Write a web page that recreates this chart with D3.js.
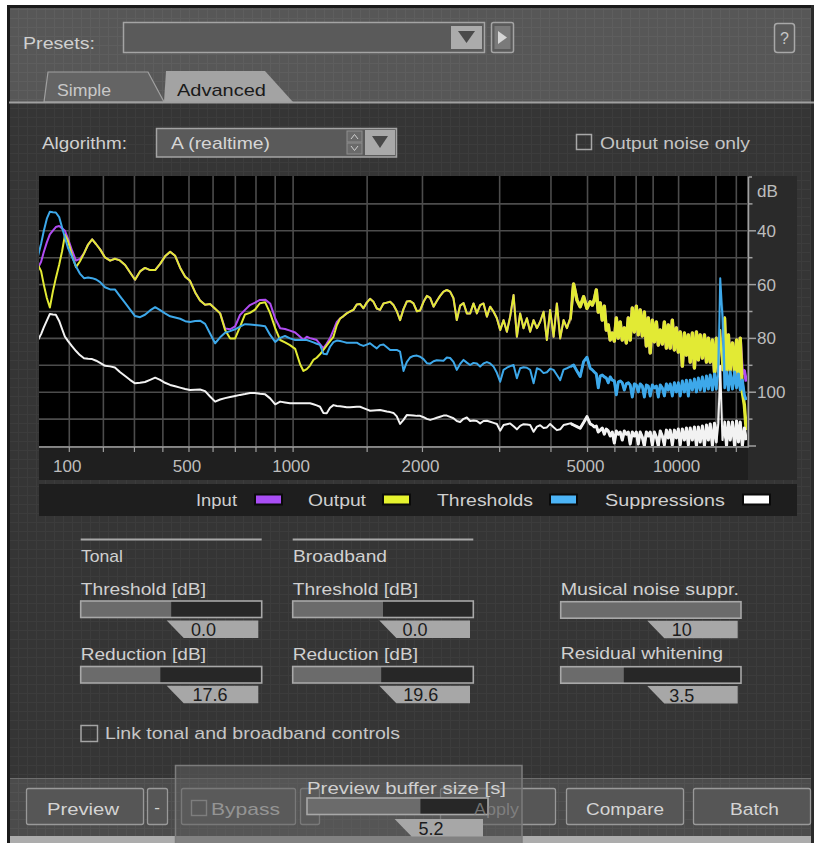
<!DOCTYPE html>
<html><head><meta charset="utf-8">
<script src="https://cdn.jsdelivr.net/npm/d3@7"></script>
<style>
html,body{margin:0;padding:0;background:#fff;}
svg{display:block;}
text{font-family:"Liberation Sans",Arial,sans-serif;}
</style></head>
<body><svg id="c" width="814" height="843"></svg>
<script>
// ---------------- DATA ----------------
const freqHz = [
 16,24,31,39,47,55,63,72,80,88,96,
 108,119,130,142,154,166,178,
 190,205,221,236,252,269,285,302,319,336,
 354,372,390,408,427,446,465,485,504,525,
 545,566,587,609,631,653,676,699,722,746,
 770,795,820,847,873,900,927,954,982,1012,
 1041,
 1061,1081,1101,1122,1143,1164,1186,1208,1230,1253,
 1276,1299,1323,1346,1370,1395,1420,1445,1471,1497,
 1523,1551,1578,1605,1634,1663,1692,1721,1751,1781,
 1813,1844,1876,1909,1943,1976,2011,2046,2081,2118,
 2154,2191,2230,2269,2308,2349,2390,2432,2476,2519,
 2563,2609,2656,2702,2751,2801,2850,2903,2955,3008,
 3064,3120,3176,3236,3296,3356,3420,3485,3549,3619,
 3688,3757,3832,3906,3981,4062,4142,4224,4311,4399,
 4487,4582,4677,4773,4877,4982,5086,
 5155,5223,5292,5361,5430,5505,5581,5656,5732,5808,
 5892,5976,6060,6144,6228,6321,6415,6508,6602,6695,
 6800,6905,7009,7114,7219,7337,7456,7574,7692,7811,
 7946,8081,8215,8350,8485,8639,8793,8948,9102,9256,
 9435,9615,9794,9974,10153,10364,10574,10785,10995,11206,
 11456,11706,11956,12206,12456,12760,13063,13367,13670,13974,
 14349,14723,15098,15472,15847,16320,16793,17266,17739,18212,
 18832,19452,20072,20692,21312,22099,22886,23673
];
const inputDb = [
 53.8,51.5,47.9,44.3,41.3,39.9,38.6,38.2,39.1,40.0,42.8,
 47.4,51.1,50.4,48.4,45.1,43.2,45.0,
 46.9,49.9,51.1,50.4,51.0,52.7,55.4,58.2,55.1,53.8,
 54.6,54.6,52.3,49.5,47.8,49.3,53.7,57.1,58.6,62.9,
 65.9,67.5,67.2,69.0,70.7,76.3,76.6,75.5,71.3,69.4,
 67.6,66.7,65.7,65.6,67.0,72.6,76.2,76.5,77.1,77.8,
 79.4,
 80.6,79.4,79.9,80.2,80.6,82.1,83.7,81.9,79.9,76.9,
 73.9,72.6,71.7,70.7,70.0,69.4,67.4,67.2,68.8,66.7,
 65.3,66.4,68.9,69.4,67.0,66.7,66.4,67.6,69.9,73.2,
 69.1,66.3,66.1,67.0,69.9,69.6,66.4,64.2,64.9,68.2,
 66.1,64.2,62.6,62.0,62.6,65.1,73.2,67.8,66.9,70.7,
 70.7,67.0,70.7,67.6,67.0,71.9,68.2,70.1,72.5,76.9,
 73.2,77.5,71.9,63.9,79.4,70.7,76.2,72.5,77.5,73.2,
 76.2,73.8,70.1,80.6,69.4,79.4,67.0,80.0,73.2,76.2,
 72.5,59.8,65.7,68.2,64.5,68.8,66.4,
 67.6,65.7,62.0,70.2,66.8,73.2,68.0,76.9,75.0,80.6,
 78.0,81.0,72.4,79.9,73.9,80.6,76.1,81.7,72.4,80.6,
 68.7,77.6,68.0,78.7,69.4,79.1,70.2,82.8,72.4,85.4,
 73.2,81.3,73.9,82.5,76.9,82.1,73.9,83.6,75.0,83.6,
 73.2,84.3,76.1,85.1,77.6,90.3,78.0,86.2,78.7,88.8,
 78.0,91.0,77.6,88.0,78.7,87.3,78.7,88.8,79.9,88.8,
 80.6,92.5,79.9,92.5,76.9,91.8,72.4,92.5,78.7,91.8,
 81.7,92.5,80.6,95.5,79.9,93.0,92.0,96.0
];
const outputDb = [
 52.7,55.0,60.0,65.0,68.5,62.6,57.6,52.6,47.6,41.5,43.7,
 49.3,53.5,51.4,48.4,45.1,43.2,45.0,
 46.9,49.9,51.1,50.4,51.0,52.7,55.4,58.2,55.1,53.8,
 54.6,54.6,52.3,49.5,47.8,49.3,53.7,57.1,58.6,62.9,
 65.9,67.5,67.2,69.0,70.7,76.9,80.0,80.0,75.7,71.1,
 70.5,69.3,66.9,66.6,70.6,76.2,80.6,81.5,82.5,83.9,
 89.6,
 92.1,91.4,90.1,88.0,87.2,85.9,84.3,82.6,81.0,79.4,
 75.1,72.6,71.7,70.7,70.0,69.4,67.4,67.2,68.8,66.7,
 65.3,66.4,68.9,69.4,67.0,66.7,66.4,67.6,69.9,73.2,
 69.1,66.3,66.1,67.0,69.9,69.6,66.4,64.2,64.9,68.2,
 66.1,64.2,62.6,62.0,62.6,65.1,73.2,67.8,66.9,70.7,
 70.7,67.0,70.7,67.6,67.0,71.9,68.2,70.1,72.5,76.9,
 73.2,77.5,71.9,63.9,79.4,70.7,76.2,72.5,77.5,73.2,
 76.2,73.8,70.1,80.6,69.4,79.4,67.0,80.0,73.2,76.2,
 72.5,59.8,65.7,68.2,64.5,68.8,66.4,
 67.6,65.7,62.0,70.2,66.8,73.2,68.0,76.9,75.0,80.6,
 78.0,81.0,72.4,79.9,73.9,80.6,76.1,81.7,72.4,80.6,
 68.7,77.6,68.0,78.7,69.4,79.1,70.2,82.8,72.4,85.4,
 73.2,81.3,73.9,82.5,76.9,82.1,73.9,83.6,75.0,83.6,
 73.2,84.3,76.1,85.1,77.6,90.3,78.0,86.2,78.7,88.8,
 78.0,91.0,77.6,88.0,78.7,87.3,78.7,88.8,79.9,88.8,
 80.6,92.5,79.9,92.5,76.9,91.8,72.4,92.5,78.7,91.8,
 81.7,92.5,80.6,95.5,79.9,99.9,104.8,114.1
];
const thresholdDb = [
 49.4,44.8,40.1,35.5,32.9,33.1,33.2,34.9,38.8,42.6,46.2,
 49.8,53.3,55.9,57.6,57.4,57.6,58.1,
 59.1,61.0,61.8,61.8,64.3,66.8,69.2,71.7,72.1,71.2,
 69.6,68.4,69.5,70.7,71.8,72.2,72.7,73.6,73.9,73.5,
 73.4,74.6,78.2,81.8,79.6,77.9,77.3,76.6,75.6,74.7,
 74.8,75.0,75.2,75.5,78.7,81.3,79.8,79.1,80.0,80.6,
 80.6,
 80.6,80.6,81.0,81.5,82.0,82.4,85.7,85.9,83.1,81.4,
 80.8,81.0,81.3,81.6,81.6,81.6,81.6,82.3,82.8,82.3,
 81.8,82.8,83.7,82.5,82.3,83.3,84.3,84.3,84.3,84.9,
 92.1,88.8,87.1,86.5,86.4,86.8,87.7,89.2,89.4,88.5,
 88.1,88.2,88.3,87.1,87.3,88.7,91.7,89.5,88.0,89.0,
 89.9,89.1,89.3,90.5,89.3,88.8,89.3,90.5,92.8,96.1,
 91.7,90.9,90.3,89.9,94.8,91.1,90.7,90.9,91.7,96.7,
 91.1,91.6,92.9,92.6,91.3,91.7,93.6,95.5,91.6,91.1,
 90.5,89.9,92.1,94.2,88.6,87.0,91.1,
 91.7,92.5,93.2,98.4,94.0,93.6,94.3,94.7,96.5,94.3,
 95.5,95.8,101.0,96.2,95.8,96.5,99.2,96.9,96.5,97.3,
 101.8,96.9,97.3,99.9,96.9,97.7,101.8,97.3,97.7,101.4,
 97.3,98.4,97.7,101.8,97.3,98.4,101.4,96.9,99.2,96.9,
 101.4,96.5,99.9,96.5,101.4,95.8,99.9,95.5,101.4,95.5,
 99.2,95.1,99.9,94.7,99.2,94.3,99.6,94.0,98.8,93.6,
 99.2,93.2,98.8,92.9,57.6,72.0,98.4,92.5,99.2,92.5,
 98.8,92.5,98.4,93.2,99.2,95.5,101.0,102.9
];
const suppressionDb = [
 80.6,78.4,75.9,73.4,70.9,71.1,71.2,73.5,76.5,79.4,80.9,
 83.0,84.7,86.2,87.4,87.6,87.7,88.3,
 89.1,90.2,90.4,90.8,92.5,94.0,95.4,96.7,96.5,96.2,
 95.4,94.6,95.4,96.5,97.3,97.8,98.3,98.8,99.2,99.1,
 99.0,99.6,101.6,103.5,102.7,102.2,101.8,101.4,101.0,100.7,
 100.3,100.3,100.6,100.8,102.3,104.5,103.5,103.8,104.1,104.1,
 104.1,
 104.1,104.1,104.1,104.5,104.9,105.4,107.7,107.8,105.8,104.8,
 105.1,105.2,105.4,105.6,105.6,105.5,105.4,105.4,105.9,106.4,
 106.9,106.8,106.7,106.6,106.9,107.2,107.4,107.7,109.0,111.8,
 110.3,108.5,108.6,108.7,108.8,108.8,109.3,109.9,110.3,109.9,
 109.5,109.1,108.7,108.7,109.2,109.7,110.7,111.1,109.9,109.4,
 110.7,110.5,110.7,111.6,110.7,110.6,111.0,111.4,111.8,114.3,
 112.2,111.9,111.6,112.7,113.8,112.5,111.9,112.0,112.2,114.7,
 112.8,112.3,113.3,113.1,111.8,113.0,114.1,113.8,112.2,111.9,
 111.6,112.2,112.8,113.4,111.3,109.1,111.8,
 112.2,112.9,112.6,114.8,114.1,113.3,115.6,113.7,114.4,116.3,
 114.8,118.9,114.4,115.6,114.8,117.8,114.4,115.6,114.8,119.3,
 114.8,116.3,114.8,119.3,114.8,116.7,120.0,114.8,116.3,114.8,
 119.6,114.8,116.7,120.0,114.4,116.3,119.6,114.1,117.0,114.1,
 119.6,114.1,117.0,113.7,119.6,113.7,117.8,113.3,119.6,113.3,
 117.8,112.9,120.0,112.9,118.5,112.6,120.0,112.2,117.8,111.8,
 120.0,111.5,118.5,111.5,90.3,117.8,111.1,120.0,111.1,117.8,
 111.1,120.0,110.7,118.5,111.1,120.0,113.3,117.8
];
const xTickHz = [100, 500, 1000, 2000, 5000, 10000];
const xGridHz = [100,200,300,400,500,600,700,800,900,1000,1500,2000,3000,4000,5000,6000,7000,8000,10000,15000,20000];
const yTickDb = [40, 60, 80, 100];
const yMinorDb = [30, 50, 70, 90, 110];
const yGridDb = [30, 40, 50, 60, 70, 80, 90, 100, 110];
const seriesNames = ["Input", "Output", "Thresholds", "Suppressions"];
const seriesColors = ["#b04cf2", "#e2ea34", "#3da8ea", "#f2f2f2"];
const swatchColors = ["#a94ef5", "#e6f32e", "#4cb4f6", "#ffffff"];
const sliderLabels = ["Threshold [dB]", "Reduction [dB]", "Threshold [dB]", "Reduction [dB]", "Musical noise suppr.", "Residual whitening", "Preview buffer size [s]"];
const sliderValues = [0.0, 17.6, 0.0, 19.6, 10, 3.5, 5.2];
const sliderText = ["0.0", "17.6", "0.0", "19.6", "10", "3.5", "5.2"];
const sliderRanges = [[-20,20],[0,40],[-20,20],[0,40],[0,10],[0,10],[0.5,8]];

// ---------------- SETUP ----------------
const svg = d3.select("#c");
const defs = svg.append("defs");
function gridPattern(id, bg, line, size) {
  const p = defs.append("pattern").attr("id", id).attr("width", size).attr("height", size)
    .attr("patternUnits", "userSpaceOnUse");
  p.append("rect").attr("width", size).attr("height", size).attr("fill", bg);
  p.append("path").attr("d", `M0 0.5H${size}M0.5 0V${size}`).attr("stroke", line).attr("stroke-width", 1);
}
gridPattern("gTop", "#575757", "#5e5e5e", 9);
gridPattern("gLow", "#353535", "#3c3c3c", 9);
gridPattern("gBar", "#4b4b4b", "#525252", 9);

function label(parent, s, x0, x1, y, opt = {}) {
  const t = parent.append("text").attr("x", x0).attr("y", y).text(s)
    .attr("font-size", opt.size || 17).attr("fill", opt.fill || "#d0d0d0");
  if (x1 != null) t.attr("textLength", x1 - x0).attr("lengthAdjust", "spacingAndGlyphs");
  return t;
}
function ctext(parent, s, cx, y, opt = {}) {
  return parent.append("text").attr("x", cx).attr("y", y).attr("text-anchor", "middle").text(s)
    .attr("font-size", opt.size || 17).attr("fill", opt.fill || "#d0d0d0");
}

// ---------------- WINDOW BACKGROUND ----------------
svg.append("rect").attr("width", 814).attr("height", 843).attr("fill", "#ffffff");
svg.append("rect").attr("x", 9).attr("y", 7).attr("width", 805).attr("height", 96).attr("fill", "url(#gTop)");
svg.append("rect").attr("x", 9).attr("y", 103).attr("width", 805).attr("height", 676).attr("fill", "url(#gLow)");
svg.append("rect").attr("x", 9).attr("y", 779).attr("width", 805).attr("height", 57).attr("fill", "url(#gBar)");
svg.append("rect").attr("x", 9).attr("y", 836).attr("width", 805).attr("height", 7).attr("fill", "#acacac");
svg.append("line").attr("x1", 9).attr("x2", 814).attr("y1", 778.5).attr("y2", 778.5).attr("stroke", "#6e6e6e");
svg.append("rect").attr("x", 7).attr("y", 5).attr("width", 3).attr("height", 838).attr("fill", "#1b1b1b");
svg.append("rect").attr("x", 7).attr("y", 5).attr("width", 807).attr("height", 3).attr("fill", "#1b1b1b");
svg.append("rect").attr("x", 811).attr("y", 5).attr("width", 3).attr("height", 838).attr("fill", "#2a2a2a");

// ---------------- TOP BAR ----------------
const topG = svg.append("g");
label(topG, "Presets:", 23, 95, 49);
topG.append("rect").attr("x", 123.5).attr("y", 22.5).attr("width", 361).attr("height", 30)
  .attr("fill", "#5a5a5a").attr("stroke", "#a4a4a4").attr("stroke-width", 1.5);
topG.append("rect").attr("x", 451).attr("y", 26).attr("width", 31).attr("height", 23).attr("fill", "#ababab");
topG.append("path").attr("d", "M458,31L475,31L466.5,43Z").attr("fill", "#4a4a4a");
topG.append("rect").attr("x", 491.5).attr("y", 22.5).attr("width", 22).attr("height", 30).attr("rx", 2)
  .attr("fill", "#5a5a5a").attr("stroke", "#a4a4a4").attr("stroke-width", 1.5);
topG.append("rect").attr("x", 494.5).attr("y", 26).attr("width", 16).attr("height", 23).attr("fill", "#7a7a7a");
topG.append("path").attr("d", "M498,31L498,44L507,37.5Z").attr("fill", "#d6d6d6");
topG.append("rect").attr("x", 774.5).attr("y", 23.5).attr("width", 20).attr("height", 29).attr("rx", 3)
  .attr("fill", "#5a5a5a").attr("stroke", "#a8a8a8").attr("stroke-width", 1.5);
ctext(topG, "?", 784.5, 44, { fill: "#c6c6c6", size: 16 });

// tabs
topG.append("path").attr("d", "M44,102L48,72L148,72L164,102Z").attr("fill", "#646464")
  .attr("stroke", "#a0a0a0").attr("stroke-width", 1.2);
topG.append("path").attr("d", "M164,102L166,71L265,71L293,102Z").attr("fill", "#a3a3a3");
label(topG, "Simple", 57, 111, 96, { fill: "#c8c8c8" });
label(topG, "Advanced", 177, 266, 96, { fill: "#1a1a1a" });
svg.append("line").attr("x1", 9).attr("x2", 814).attr("y1", 102.5).attr("y2", 102.5)
  .attr("stroke", "#a0a0a0").attr("stroke-width", 2);

// algorithm row
const alg = svg.append("g");
label(alg, "Algorithm:", 42, 127, 149);
alg.append("rect").attr("x", 156.5).attr("y", 128.5).attr("width", 240).attr("height", 28.5)
  .attr("fill", "#5a5a5a").attr("stroke", "#a4a4a4").attr("stroke-width", 1.5);
label(alg, "A (realtime)", 171, 270, 149, { fill: "#d6d6d6" });
alg.append("rect").attr("x", 347).attr("y", 131).attr("width", 15).attr("height", 11).attr("fill", "#6a6a6a").attr("stroke", "#8e8e8e");
alg.append("rect").attr("x", 347).attr("y", 143).attr("width", 15).attr("height", 11).attr("fill", "#6a6a6a").attr("stroke", "#8e8e8e");
alg.append("path").attr("d", "M351,139L354.5,134.5L358,139").attr("fill", "none").attr("stroke", "#cfcfcf");
alg.append("path").attr("d", "M351,146L354.5,150.5L358,146").attr("fill", "none").attr("stroke", "#cfcfcf");
alg.append("rect").attr("x", 365).attr("y", 130).attr("width", 30).attr("height", 25).attr("fill", "#a9a9a9");
alg.append("path").attr("d", "M372,136L388,136L380,148Z").attr("fill", "#484848");
alg.append("rect").attr("x", 576.5).attr("y", 134.5).attr("width", 15).attr("height", 15)
  .attr("fill", "none").attr("stroke", "#a8a8a8").attr("stroke-width", 1.5);
label(alg, "Output noise only", 600, 750, 149, { fill: "#c4c4c4" });

// ---------------- CHART ----------------
const bark = f => 26.81 * f / (1960 + f) - 0.53;
const xs = d3.scaleLinear().domain([bark(100), bark(10000)]).range([69.3, 678.6]);
const fx = f => xs(bark(f));
const ys = d3.scaleLinear().domain([20, 120]).range([177, 446]);
const L = 39, R = 747, T = 176, B = 446;

const chart = svg.append("g");
chart.append("rect").attr("x", 748).attr("y", T).attr("width", 49).attr("height", 304).attr("fill", "#2a2a2a");
chart.append("rect").attr("x", L).attr("y", 447).attr("width", 709).attr("height", 33).attr("fill", "#1f1f1f");
chart.append("rect").attr("x", L).attr("y", 484).attr("width", 758).attr("height", 32).attr("fill", "#1e1e1e");
chart.append("rect").attr("x", L).attr("y", T).attr("width", R - L).attr("height", B - T).attr("fill", "#000");

defs.append("clipPath").attr("id", "plotClip").append("rect")
  .attr("x", L).attr("y", T).attr("width", R - L).attr("height", B - T);
// dense (high-frequency) part of the spectrum is stroked wider so the bins merge as in the original;
// the narrow tonal spike near 15.8 kHz keeps the thin stroke
const dense = defs.append("clipPath").attr("id", "denseClip");
dense.append("rect").attr("x", fx(4500)).attr("y", T).attr("width", fx(15300) - fx(4500)).attr("height", B - T);
dense.append("rect").attr("x", fx(16600)).attr("y", T).attr("width", R - fx(16600)).attr("height", B - T);

const gridG = chart.append("g").attr("stroke", "#4c4c4c").attr("stroke-width", 1.6);
gridG.selectAll(".v").data(xGridHz).join("line")
  .attr("x1", d => fx(d)).attr("x2", d => fx(d)).attr("y1", T).attr("y2", B);
gridG.selectAll(".h").data(yGridDb).join("line")
  .attr("x1", L).attr("x2", R).attr("y1", d => ys(d)).attr("y2", d => ys(d));

const lineGen = vals => d3.line()
  .x((d, i) => fx(freqHz[i]))
  .y(d => ys(d))
  .curve(d3.curveLinear)(vals);
const seriesData = [inputDb, outputDb, thresholdDb, suppressionDb];
const denseWidth = [3.2, 3.4, 2.9, 3.0];
const lg = chart.append("g").attr("clip-path", "url(#plotClip)");
seriesData.forEach((vals, k) => {
  const d = lineGen(vals);
  lg.append("path").attr("d", d).attr("fill", "none")
    .attr("stroke", seriesColors[k]).attr("stroke-width", 2)
    .attr("stroke-linejoin", "round");
  lg.append("path").attr("d", d).attr("fill", "none").attr("clip-path", "url(#denseClip)")
    .attr("stroke", seriesColors[k]).attr("stroke-width", denseWidth[k])
    .attr("stroke-linejoin", "round");
});

// bottom axis
const axG = chart.append("g").attr("stroke", "#a0a0a0");
axG.append("line").attr("x1", L).attr("x2", 749).attr("y1", 447).attr("y2", 447).attr("stroke-width", 1.5);
axG.selectAll(".t").data(xGridHz).join("line")
  .attr("x1", d => fx(d)).attr("x2", d => fx(d)).attr("y1", 447).attr("y2", 452).attr("stroke-width", 1.2);
chart.selectAll(".xl").data(xTickHz).join("text")
  .attr("x", d => fx(d) - 2).attr("y", 472).attr("text-anchor", "middle")
  .attr("font-size", 17).attr("fill", "#bdbdbd").text(d => d);

// right axis
axG.append("line").attr("x1", 748.5).attr("x2", 748.5).attr("y1", 177).attr("y2", 447).attr("stroke-width", 1.5);
axG.selectAll(".mj").data([20].concat(yTickDb, [120])).join("line")
  .attr("x1", 748.5).attr("x2", d => d === 20 ? 752 : 756).attr("y1", d => ys(d)).attr("y2", d => ys(d)).attr("stroke-width", 1.5);
axG.selectAll(".mn").data(yMinorDb).join("line")
  .attr("x1", 748.5).attr("x2", 752.5).attr("y1", d => ys(d)).attr("y2", d => ys(d)).attr("stroke-width", 1.5);
chart.selectAll(".yl").data(yTickDb).join("text")
  .attr("x", 757).attr("y", d => ys(d) + 6).attr("font-size", 17).attr("fill", "#bdbdbd").text(d => d);
chart.append("text").attr("x", 757).attr("y", 197).attr("font-size", 17).attr("fill", "#bdbdbd").text("dB");

// legend
const legPos = [
  { t0: 196, t1: 237, s: 255 },
  { t0: 308, t1: 366, s: 383 },
  { t0: 437, t1: 533, s: 550 },
  { t0: 605, t1: 725, s: 743 }
];
seriesNames.forEach((n, k) => {
  label(chart, n, legPos[k].t0, legPos[k].t1, 506, { fill: "#cfcfcf" });
  chart.append("rect").attr("x", legPos[k].s).attr("y", 494.5).attr("width", 27).attr("height", 10)
    .attr("fill", swatchColors[k]).attr("stroke", "#0a0a0a").attr("stroke-width", 2);
});

// ---------------- CONTROLS ----------------
const ctl = svg.append("g");
ctl.append("line").attr("x1", 80.7).attr("x2", 261.7).attr("y1", 539.5).attr("y2", 539.5).attr("stroke", "#a8a8a8").attr("stroke-width", 2);
ctl.append("line").attr("x1", 292.7).attr("x2", 473.3).attr("y1", 539.5).attr("y2", 539.5).attr("stroke", "#a8a8a8").attr("stroke-width", 2);
label(ctl, "Tonal", 81, 123, 562);
label(ctl, "Broadband", 293, 387, 562);

function slider(g, k, x0, x1, yT, boxX0, boxX1, boxT, valCx, labX1, labY) {
  label(g, sliderLabels[k], x0, labX1, labY);
  const sc = d3.scaleLinear().domain(sliderRanges[k]).range([x0, x1]).clamp(true);
  const h = 16.5;
  g.append("rect").attr("x", x0).attr("y", yT).attr("width", x1 - x0).attr("height", h).attr("fill", "#272727");
  g.append("rect").attr("x", x0).attr("y", yT).attr("width", sc(sliderValues[k]) - x0).attr("height", h).attr("fill", "#6b6b6b");
  g.append("rect").attr("x", x0).attr("y", yT).attr("width", x1 - x0).attr("height", h)
    .attr("fill", "none").attr("stroke", "#a8a8a8").attr("stroke-width", 1.6);
  const bh = 17.5;
  g.append("path").attr("d", `M${boxX0},${boxT}L${boxX1},${boxT}L${boxX1},${boxT + bh}L${boxX0 + 17},${boxT + bh}Z`)
    .attr("fill", "#a7a7a7");
  ctext(g, sliderText[k], valCx, boxT + 15.5, { fill: "#1c1c1c", size: 18 });
}
slider(ctl, 0, 80.7, 261.7, 601, 166.7, 258.3, 620.5, 203.5, 206, 595);
slider(ctl, 1, 80.7, 261.7, 666.5, 166.7, 258.3, 685.7, 210, 206, 660);
slider(ctl, 2, 292.7, 473.3, 601, 379.3, 470, 620.5, 415, 418, 595);
slider(ctl, 3, 292.7, 473.3, 666.5, 379.3, 470, 685.7, 420.8, 418, 660);
slider(ctl, 4, 560.7, 741, 601.7, 647.3, 737.7, 620.7, 681.7, 739, 595);
slider(ctl, 5, 560.7, 741, 666.7, 647.3, 737.7, 686, 681.7, 723, 659);

ctl.append("rect").attr("x", 81).attr("y", 725.5).attr("width", 16.5).attr("height", 16)
  .attr("fill", "none").attr("stroke", "#a4a4a4").attr("stroke-width", 1.5);
label(ctl, "Link tonal and broadband controls", 105, 400, 739, { fill: "#c6c6c6" });

// ---------------- BOTTOM BAR ----------------
const bar = svg.append("g");
function button(x0, x1, txt, tx0, tx1, fill) {
  bar.append("rect").attr("x", x0 + 0.5).attr("y", 788.5).attr("width", x1 - x0).attr("height", 36).attr("rx", 2)
    .attr("fill", "#565656").attr("stroke", "#999").attr("stroke-width", 1.3);
  if (txt) label(bar, txt, tx0, tx1, 815, { fill: fill || "#d4d4d4" });
}
button(26, 143, "Preview", 47, 119);
button(147, 167, null);
ctext(bar, "-", 157, 813, { fill: "#d4d4d4" });
button(181, 295, "Bypass", 211, 280);
bar.append("rect").attr("x", 191.5).attr("y", 800.5).attr("width", 15).attr("height", 15)
  .attr("fill", "none").attr("stroke", "#a4a4a4").attr("stroke-width", 1.4);
button(300, 319, null);
button(440, 555, null);
button(566, 683, "Compare", 586, 664);
button(693, 810, "Batch", 730, 779);

// overlay popup (translucent, controls behind remain faintly visible)
const ov = svg.append("g");
ov.append("rect").attr("x", 175.5).attr("y", 765.5).attr("width", 346.5).attr("height", 80)
  .attr("fill", "#5e5e5e").attr("fill-opacity", 0.55).attr("stroke", "#7c7c7c").attr("stroke-width", 1.5);
slider(ov, 6, 307, 488, 798, 394.6, 483, 819, 431, 506, 794);
// greyed "Apply" caption shows through the popup
label(svg, "Apply", 474, 519, 815, { fill: "#8c8c8c" }).attr("fill-opacity", 0.75);
</script></body></html>
